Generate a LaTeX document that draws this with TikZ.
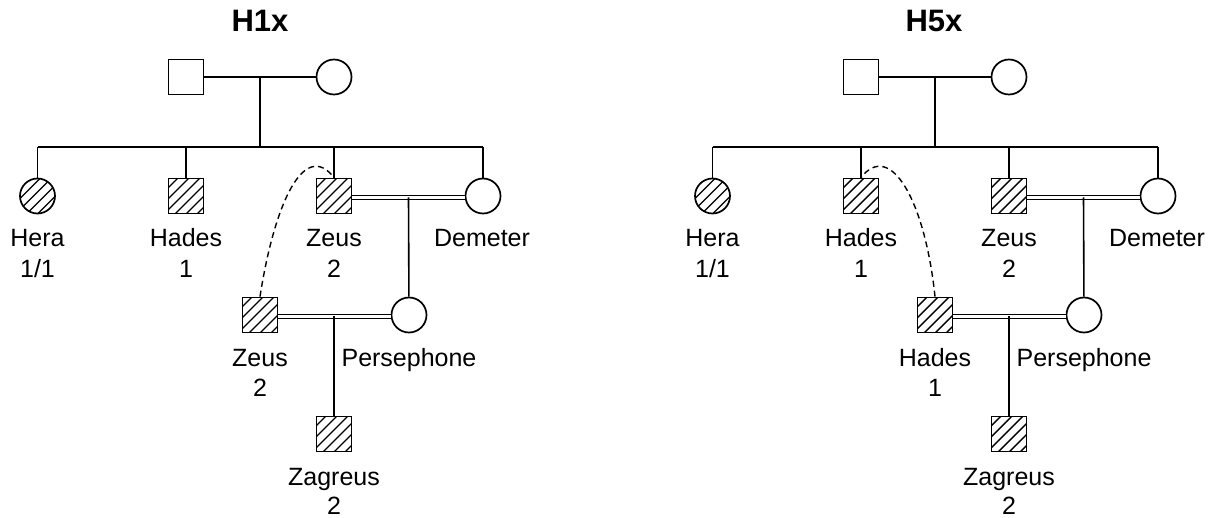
\documentclass[tikz,border=0pt]{standalone}
\usepackage{fontspec}
\setmainfont{Liberation Sans}
\begin{document}
\begin{tikzpicture}[x=1pt,y=-1pt,
  male/.style={draw, rectangle, minimum size=35pt, inner sep=0pt, line width=1.7pt, fill=white},
  female/.style={draw, circle, minimum size=35pt, inner sep=0pt, line width=1.7pt, fill=white},
  hatched/.style={path picture={
    \foreach \d in {-48,-37,...,48}
      \draw[line width=1.4pt] ([shift={(\d-30,30)}]path picture bounding box.center) -- ++(60,-60);}},
  link/.style={line width=1.6pt},
  union/.style={double, line width=1.4pt, double distance=2.2pt},
  kin/.style={line width=1.4pt, dash pattern=on 6pt off 4pt},
  namelbl/.style={anchor=base, inner sep=0pt, font=\fontsize{25}{30}\selectfont},
  ttl/.style={anchor=base, inner sep=0pt, font=\bfseries\fontsize{31}{36}\selectfont},
]
\useasboundingbox (0,0) rectangle (1217,518);

% ---------------- H1x ----------------
\node[ttl] (aT) at (260,32) {H1x};
\node[male] (aF) at (186,77) {};
\node[female] (aM) at (334,77) {};
\coordinate (aU) at (260,77);
\coordinate (aS) at (260,147);
\coordinate (aSL) at (37.5,147);
\coordinate (aSR) at (483,147);
\node[female,hatched] (aHera) at (37.5,196) {};
\node[male,hatched] (aHades) at (186,196) {};
\node[male,hatched] (aZeus) at (334,196) {};
\node[female] (aDem) at (483,196) {};
\node[male,hatched] (aZeusB) at (260,315) {};
\node[female] (aPers) at (409,315) {};
\node[male,hatched] (aZag) at (334,434) {};
\coordinate (aZD) at (408.5,197.5);
\coordinate (aZP) at (334,316.5);

\draw[link] (aF) -- (aM);
\draw[link] (aU) -- (aS);
\draw[link] (aSL) -- (aSR);
\draw[link] (aSL) -- (aHera);
\draw[link] (aHades |- aS) -- (aHades);
\draw[link] (aZeus |- aS) -- (aZeus);
\draw[link] (aSR) -- (aDem);
\draw[union] ([yshift=-1.5pt]aZeus.east) -- ([yshift=-1.5pt]aDem.west);
\draw[link] (aZD) -- (aPers);
\draw[union] ([yshift=-1.5pt]aZeusB.east) -- ([yshift=-1.5pt]aPers.west);
\draw[link] (aZP) -- (aZag);
\draw[kin] (aZeusB.north) .. controls (275,200) and (305,140) .. (aZeus.north);

\node[namelbl] (aHeraN) at (37.5,247) {Hera};
\node[namelbl] (aHeraG) at (37.5,277.5) {1/1};
\node[namelbl] (aHadesN) at (186,247) {Hades};
\node[namelbl] (aHadesG) at (186,277.5) {1};
\node[namelbl] (aZeusN) at (334,247) {Zeus};
\node[namelbl] (aZeusG) at (334,277.5) {2};
\node[namelbl] (aDemN) at (482,247) {Demeter};
\node[namelbl] (aZeusBN) at (260,366) {Zeus};
\node[namelbl] (aZeusBG) at (260,396.5) {2};
\node[namelbl] (aPersN) at (409,366) {Persephone};
\node[namelbl] (aZagN) at (334,485) {Zagreus};
\node[namelbl] (aZagG) at (334,514.5) {2};

% ---------------- H5x ----------------
\node[ttl] (bT) at (934,32) {H5x};
\node[male] (bF) at (861,77) {};
\node[female] (bM) at (1009,77) {};
\coordinate (bU) at (935,77);
\coordinate (bS) at (935,147);
\coordinate (bSL) at (712.5,147);
\coordinate (bSR) at (1158,147);
\node[female,hatched] (bHera) at (712.5,196) {};
\node[male,hatched] (bHades) at (861,196) {};
\node[male,hatched] (bZeus) at (1009,196) {};
\node[female] (bDem) at (1158,196) {};
\node[male,hatched] (bHadesB) at (935,315) {};
\node[female] (bPers) at (1084,315) {};
\node[male,hatched] (bZag) at (1009,434) {};
\coordinate (bZD) at (1083.5,197.5);
\coordinate (bZP) at (1009,316.5);

\draw[link] (bF) -- (bM);
\draw[link] (bU) -- (bS);
\draw[link] (bSL) -- (bSR);
\draw[link] (bSL) -- (bHera);
\draw[link] (bHades |- bS) -- (bHades);
\draw[link] (bZeus |- bS) -- (bZeus);
\draw[link] (bSR) -- (bDem);
\draw[union] ([yshift=-1.5pt]bZeus.east) -- ([yshift=-1.5pt]bDem.west);
\draw[link] (bZD) -- (bPers);
\draw[union] ([yshift=-1.5pt]bHadesB.east) -- ([yshift=-1.5pt]bPers.west);
\draw[link] (bZP) -- (bZag);
\draw[kin] (bHadesB.north) .. controls (925,200) and (890,140) .. (bHades.north);

\node[namelbl] (bHeraN) at (712.5,247) {Hera};
\node[namelbl] (bHeraG) at (712.5,277.5) {1/1};
\node[namelbl] (bHadesN) at (861,247) {Hades};
\node[namelbl] (bHadesG) at (861,277.5) {1};
\node[namelbl] (bZeusN) at (1009,247) {Zeus};
\node[namelbl] (bZeusG) at (1009,277.5) {2};
\node[namelbl] (bDemN) at (1157,247) {Demeter};
\node[namelbl] (bHadesBN) at (935,366) {Hades};
\node[namelbl] (bHadesBG) at (935,396.5) {1};
\node[namelbl] (bPersN) at (1084,366) {Persephone};
\node[namelbl] (bZagN) at (1009,485) {Zagreus};
\node[namelbl] (bZagG) at (1009,514.5) {2};
\end{tikzpicture}
\end{document}
